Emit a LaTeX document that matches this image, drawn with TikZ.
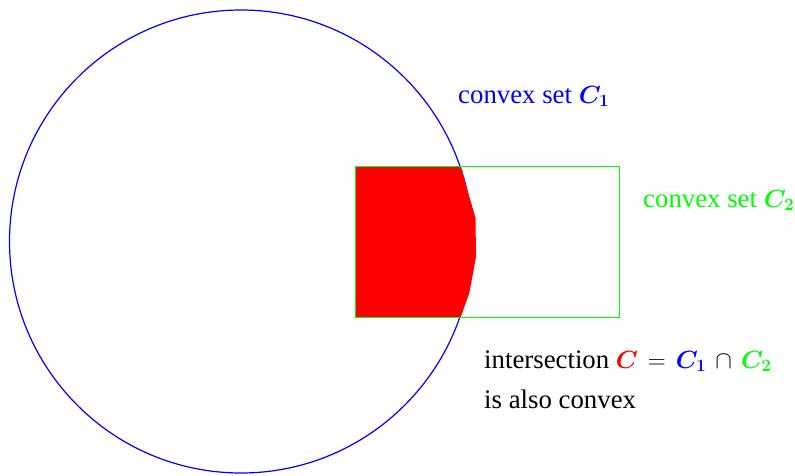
\documentclass[tikz,border=0pt]{standalone}
\usepackage{amsmath,bm}
\usepackage[no-math]{fontspec}
\setmainfont{Liberation Serif}
\definecolor{cblue}{RGB}{0,0,255}
\definecolor{cgreen}{RGB}{0,255,0}
\definecolor{cred}{RGB}{255,0,0}
\newcommand{\bC}[1]{\boldsymbol{C}_{\mathbf{#1}}}
\begin{document}
\begin{tikzpicture}[x=1pt,y=-1pt,
  lbl/.style={anchor=base west,inner sep=0pt,font=\fontsize{26.8}{32}\selectfont}]
\useasboundingbox (0,0) rectangle (795,475);
\node[draw=cblue,line width=1.2pt,circle,minimum size=463pt,inner sep=0pt] (c1) at (241,241.5) {};
\fill[cred] (355,166) -- (460.7,166) -- (468.3,193) -- (475.5,218) -- (476,257) -- (469.3,293) -- (460.7,317) -- (355,317) -- cycle;
\node[draw=cgreen,line width=1.2pt,rectangle,anchor=north west,minimum width=264pt,minimum height=151pt,inner sep=0pt] (c2) at (355,166) {};
\node[lbl,text=cblue] (l1) at (458,103) {convex set $\bC{1}$};
\node[lbl,text=cgreen] (l2) at (643,207) {convex set $\bC{2}$};
\node[lbl] (l3) at (484,368) {intersection \textcolor{cred}{$\boldsymbol{C}$}\hspace{10pt}$=$\hspace{10pt}\textcolor{cblue}{$\bC{1}$}\hspace{9pt}$\cap$\hspace{9pt}\textcolor{cgreen}{$\bC{2}$}};
\node[lbl] (l4) at (484,408) {is also convex};
\end{tikzpicture}
\end{document}
